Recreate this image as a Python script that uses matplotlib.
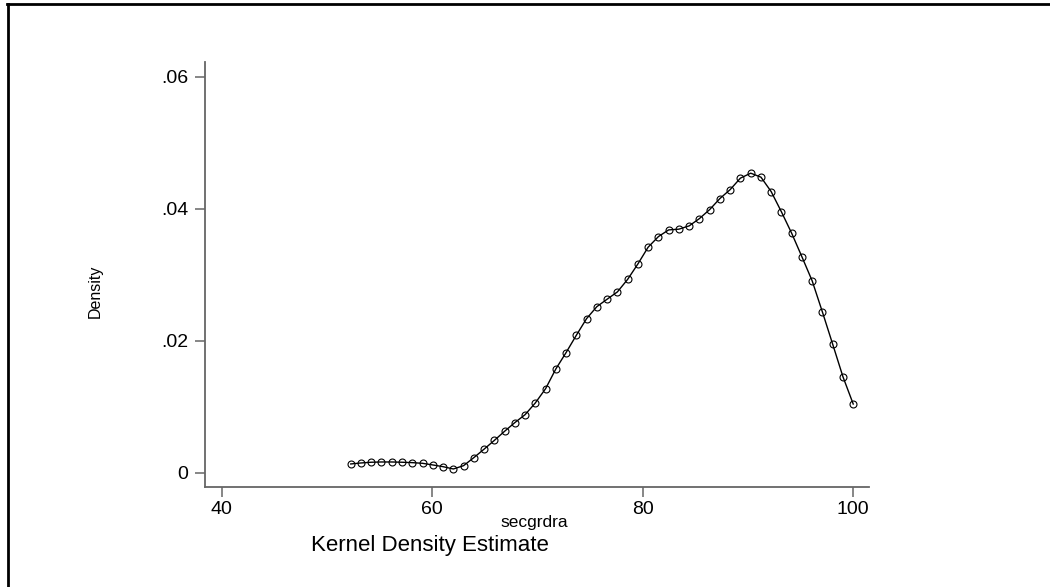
import numpy as np
import matplotlib.pyplot as plt
from matplotlib.lines import Line2D

plt.rcParams['font.family'] = ['Liberation Sans', 'DejaVu Sans']

# kernel density evaluation points (secgrdra) and density values
secgrdra = [52.25, 53.22, 54.20, 55.17, 56.15, 57.12, 58.10, 59.07, 60.05, 61.02,
            62.00, 62.97, 63.94, 64.92, 65.89, 66.87, 67.84, 68.82, 69.79, 70.77,
            71.74, 72.71, 73.69, 74.66, 75.64, 76.61, 77.59, 78.56, 79.54, 80.51,
            81.49, 82.46, 83.43, 84.41, 85.38, 86.36, 87.33, 88.31, 89.28, 90.26,
            91.23, 92.20, 93.18, 94.15, 95.13, 96.10, 97.08, 98.05, 99.03, 100.00]
density = [0.00132, 0.00147, 0.00158, 0.00162, 0.00162, 0.00158, 0.00152, 0.00142, 0.00117, 0.00091,
           0.00056, 0.00106, 0.00227, 0.00356, 0.00488, 0.00627, 0.00758, 0.00879, 0.01056, 0.01273,
           0.01571, 0.01818, 0.02082, 0.02333, 0.02515, 0.02627, 0.02738, 0.02927, 0.03162, 0.03415,
           0.03576, 0.03677, 0.03688, 0.03738, 0.03848, 0.03985, 0.04152, 0.04288, 0.04461, 0.04536,
           0.04476, 0.04258, 0.03950, 0.03627, 0.03268, 0.02905, 0.02430, 0.01945, 0.01450, 0.01040]

xticks = [40, 60, 80, 100]
yticks = [0, 0.02, 0.04, 0.06]
ylabels = ['0', '.02', '.04', '.06']

fig = plt.figure(figsize=(10.5, 5.87), dpi=100)
ax = fig.add_axes([205/1050, 1 - 487/587, (869-205)/1050, (487-62)/587])

ax.plot(secgrdra, density, color='black', lw=1.0, marker='o', ms=5,
        mfc='none', mec='black', mew=0.8)

ax.set_xlim(38.4, 101.5)
ax.set_ylim(-0.00217, 0.0622)
ax.set_xticks(xticks)
ax.set_xticklabels([str(t) for t in xticks])
ax.set_yticks(yticks)
ax.set_yticklabels(ylabels)

for s in ['top', 'right']:
    ax.spines[s].set_visible(False)
for s in ['left', 'bottom']:
    ax.spines[s].set_color('#666666')
    ax.spines[s].set_linewidth(1.3)
ax.tick_params(axis='both', direction='out', length=7, width=1.1, color='#666666',
               labelsize=14)
ax.tick_params(axis='y', pad=5)
ax.tick_params(axis='x', pad=3)

fig.text(95/1050, 1 - 291/587, 'Density', rotation=90, ha='center', va='center', fontsize=11.5)
fig.text(534/1050, 1 - 522/587, 'secgrdra', ha='center', va='center', fontsize=12.5)
fig.text(430/1050, 1 - 545/587, 'Kernel Density Estimate', ha='center', va='center', fontsize=16)

# outer frame (top and left edges)
fig.add_artist(Line2D([7/1050, 1], [1 - 4/587, 1 - 4/587], color='black', lw=2))
fig.add_artist(Line2D([8/1050, 8/1050], [0, 1 - 4/587], color='black', lw=2))

fig.savefig('out.png', dpi=100)
